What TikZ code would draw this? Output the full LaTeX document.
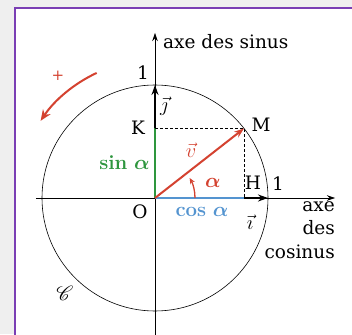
\RequirePackage{fix-cm}
\documentclass[tikz,border=0pt]{standalone}
\usepackage{amsmath}
\usepackage{amsbsy}
\usepackage{mathrsfs}
\usepackage{fontspec}
\newfontfamily\dvs{DejaVu Serif}
\usetikzlibrary{arrows.meta}
\definecolor{bgray}{RGB}{239,239,239}
\definecolor{frame}{RGB}{122,62,180}
\definecolor{myred}{RGB}{212,66,48}
\definecolor{mygreen}{RGB}{46,150,62}
\definecolor{myblue}{RGB}{84,148,208}
\begin{document}
\begin{tikzpicture}[x=1pt,y=1pt,
  lbl/.style={font=\dvs\fontsize{18.5}{23.5}\selectfont, inner sep=1pt},
  mlbl/.style={font=\fontsize{12}{14.5}\selectfont, inner sep=0.6pt, scale=1.7, transform shape},
  axis/.style={line width=0.6pt, -{Stealth[length=8pt,width=5.5pt]}},
  vecb/.style={line width=1.8pt, -{Stealth[length=10pt,width=7pt]}},
  dashline/.style={line width=0.6pt, dash pattern=on 3pt off 2pt}]
% background and frame
\fill[bgray] (-155,-136) rectangle (197,198);
\useasboundingbox (-155,-136) rectangle (197,198);
\fill[white] (-140,-136) rectangle (197,190);
\draw[frame, line width=2.5pt] (-140,-137) -- (-140,190) -- (198,190);
% points
\coordinate (O) at (0,0);
\coordinate (M) at (38:113);
\coordinate (K) at (0,{113*sin(38)});
\coordinate (H) at ({113*cos(38)},0);
\coordinate (I) at (113,0);
\coordinate (J) at (0,113);
\coordinate (xs) at (-119,0);
\coordinate (xe) at (180,0);
\coordinate (ys) at (0,-137);
\coordinate (ye) at (0,165);
% circle
\draw[line width=0.6pt] (O) circle (113);
% axes
\draw[axis] (xs) -- (xe);
\draw[axis] (ys) -- (ye);
% unit vectors
\draw[vecb] (O) -- (I);
\draw[vecb] (O) -- (J);
% projections
\draw[myblue, line width=2pt] (O) -- (H);
\draw[mygreen, line width=2pt] (O) -- (K);
\draw[dashline] (K) -- (M) -- (H);
% vector v
\draw[myred, line width=2pt, -{Stealth[length=10pt,width=7pt]}] (O) -- (M);
% angle alpha
\draw[myred, line width=1.3pt, -{Stealth[length=6pt,width=5pt]}] (40,0) arc[start angle=0, end angle=30, radius=40];
% positive direction
\draw[myred, line width=2pt, -{Stealth[length=11pt,width=9pt]}] (115:138) arc[start angle=115, end angle=146, radius=138];
\node[text=myred, font=\dvs\fontsize{15}{17}\selectfont] (plus) at (-97,122) {+};
% labels
\node[lbl, anchor=west] (axs) at (7,156) {axe des sinus};
\node[lbl] (one1) at (-12,125) {1};
\node[mlbl] (lj) at (9,92) {$\vec{\jmath}$};
\node[lbl] (lK) at (-17,70) {K};
\node[lbl] (lM) at (106,73) {M};
\node[mlbl, anchor=east, text=mygreen] (lsin) at (-4,35) {\textbf{sin} $\boldsymbol{\alpha}$};
\node[mlbl, text=myred] (lv) at (36,48) {$\vec{v}$};
\node[mlbl, text=myred] (lalpha) at (58,15) {$\boldsymbol{\alpha}$};
\node[lbl] (lH) at (98,15) {H};
\node[lbl] (one2) at (123,14) {1};
\node[lbl] (lO) at (-15,-14) {O};
\node[mlbl, text=myblue] (lcos) at (47,-14) {\textbf{cos} $\boldsymbol{\alpha}$};
\node[mlbl] (li) at (95,-24) {$\vec{\imath}$};
\node[lbl, anchor=north east, align=right] (axc) at (181,-2) {axe\\des\\cosinus};
\node[mlbl] (lC) at (-90,-95) {$\mathscr{C}$};
\end{tikzpicture}
\end{document}
